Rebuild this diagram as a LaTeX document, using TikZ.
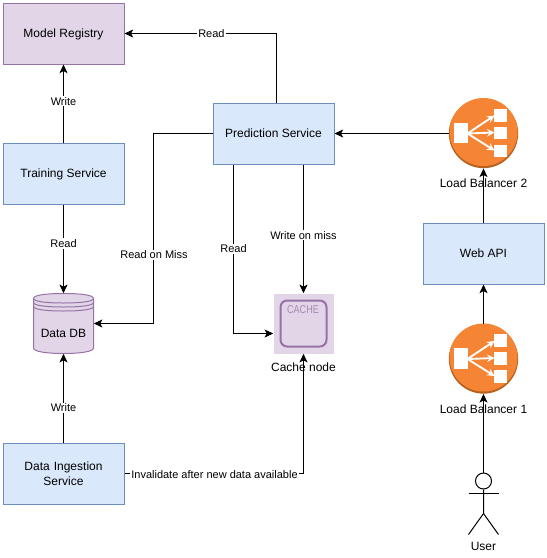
\documentclass[tikz,border=0pt]{standalone}
\usepackage{fontspec}
\setmainfont{Liberation Sans}
\usetikzlibrary{arrows.meta}
\definecolor{bluefill}{HTML}{DAE8FC}
\definecolor{bluedraw}{HTML}{6C8EBF}
\definecolor{purpfill}{HTML}{E1D5E7}
\definecolor{purpdraw}{HTML}{9673A6}
\definecolor{lborange}{HTML}{F58534}
\definecolor{lbdark}{HTML}{B9621F}
\tikzset{
  x=0.75pt,y=-0.75pt,
  svcbase/.style={draw=bluedraw,fill=bluefill,line width=0.75pt,minimum width=90.75pt,minimum height=45.75pt,inner sep=0pt,align=center,font=\fontsize{9}{11}\selectfont},
  svc/.style={svcbase,text height=6.5pt,text depth=0pt},
  reg/.style={svc,draw=purpdraw,fill=purpfill},
  conn/.style={draw=black,line width=0.75pt,-{Stealth[length=6.5pt,width=6pt,inset=1.6pt]}},
  lbl/.style={fill=white,inner sep=0.8pt,font=\fontsize{8.25}{10}\selectfont},
  captxt/.style={inner sep=0pt,font=\fontsize{9}{11}\selectfont},
  lbnode/.style={circle,fill=lbdark,minimum size=52pt,inner sep=0pt},
  lbarrow/.style={white,line width=1.4pt,-{Stealth[length=5.5pt,width=5.5pt]}},
  lbicon/.pic={
    \fill[lborange] (0,-1.5) circle[radius=34];
    \fill[white] (-29.5,-11) rectangle (-16,9.5);
    \fill[white] (10.5,-25) rectangle (23,-12);
    \fill[white] (10.5,-7) rectangle (23,5.5);
    \fill[white] (10.5,11) rectangle (23,23.5);
    \draw[lbarrow] (-16,0) -- (11,-18);
    \draw[lbarrow] (-16,0) -- (11,-1);
    \draw[lbarrow] (-16,0) -- (11,17);
  }
}
\begin{document}
\begin{tikzpicture}
\useasboundingbox (0,0) rectangle (547,558);
\fill[white] (0,0) rectangle (547,558);
% boxes
\node[reg] (registry) at (63.5,33.5) {Model Registry};
\node[svc] (training) at (63.5,173.5) {Training Service};
\node[svc] (prediction) at (273.5,133.5) {Prediction Service};
\node[svcbase,text width=80pt] (ingestion) at (63.5,473.5) {Data Ingestion\\Service};
\node[svc] (webapi) at (483.5,253.5) {Web API};
% data store
\draw[purpdraw,fill=purpfill,line width=0.75pt] (33.5,298.5) .. controls (33.5,295) and (46,293.5) .. (63.5,293.5) .. controls (81,293.5) and (93.5,295) .. (93.5,298.5) -- (93.5,348) .. controls (93.5,351.5) and (81,353.5) .. (63.5,353.5) .. controls (46,353.5) and (33.5,351.5) .. (33.5,348) -- cycle;
\draw[purpdraw,line width=0.75pt] (33.5,298.5) .. controls (33.5,301.5) and (46,303) .. (63.5,303) .. controls (81,303) and (93.5,301.5) .. (93.5,298.5);
\draw[purpdraw,line width=0.75pt] (33.5,302.5) .. controls (33.5,305.5) and (46,307) .. (63.5,307) .. controls (81,307) and (93.5,305.5) .. (93.5,302.5);
\draw[purpdraw,line width=0.75pt] (33.5,306.5) .. controls (33.5,309.5) and (46,311) .. (63.5,311) .. controls (81,311) and (93.5,309.5) .. (93.5,306.5);
\node[minimum width=45pt,minimum height=45pt,inner sep=0pt] (db) at (63.5,323.5) {};
\node[captxt] (dbtxt) at (63.5,333.5) {Data DB};
% cache
\node[fill=purpfill,minimum width=45pt,minimum height=45pt,inner sep=0pt] (cache) at (303.5,323.5) {};
\draw[purpdraw,line width=1.5pt,rounded corners=5pt] (280.5,300.5) rectangle (326.5,346.5);
\node[inner sep=0pt,text=purpdraw!85,font=\fontsize{8.5}{10}\selectfont,xscale=0.8] (cachetxt) at (303,310) {CACHE};
\node[captxt] (cachecap) at (303.5,367) {Cache node};
% load balancers
\node[lbnode] (lb2) at (483.5,133.5) {};
\pic at (lb2.center) {lbicon};
\node[captxt] (lb2cap) at (483.5,183) {Load Balancer 2};
\node[lbnode] (lb1) at (483.5,359) {};
\pic at (lb1.center) {lbicon};
\node[captxt] (lb1cap) at (483.5,409) {Load Balancer 1};
% user
\node[circle,draw=black,fill=white,line width=0.75pt,minimum size=12pt,inner sep=0pt] (user) at (483.5,481) {};
\draw[black,line width=0.75pt] (user.south) -- ++(0,24) coordinate (hip) -- ++(-15,21);
\draw[black,line width=0.75pt] (hip) -- ++(15,21);
\draw[black,line width=0.75pt] ([yshift=-3pt]user.south) ++(-15,0) -- ++(30,0);
\node[captxt] (usercap) at (483.5,546) {User};
% connectors
\draw[conn] (training.north) -- node[lbl,pos=0.53]{Write} (registry.south);
\draw[conn] (training.south) -- node[lbl,pos=0.44]{Read} (db.north);
\draw[conn] (ingestion.north) -- node[lbl,pos=0.39]{Write} (db.south);
\draw[conn] ([xshift=2.6pt]prediction.north) |- node[lbl,pos=0.715]{Read} (registry.east);
\draw[conn] (prediction.west) -| (153.5,323.5) -- (db.east);
\node[lbl] (lmiss) at (154,255) {Read on Miss};
\draw[conn] ([xshift=-30pt]prediction.south) |- ([yshift=-7.5pt]cache.west);
\node[lbl] (lread) at (233.5,249) {Read};
\draw[conn] ([xshift=22.5pt]prediction.south) -- node[lbl,pos=0.55]{Write on miss} (cache.north);
\draw[conn] (ingestion.east) -| (cache.south);
\node[lbl] (linv) at (214.5,475) {Invalidate after new data available};
\draw[conn] (lb2.west) -- (prediction.east);
\draw[conn] (webapi.north) -- (lb2.south);
\draw[conn] (lb1.north) -- (webapi.south);
\draw[conn] (user.north) -- (lb1.south);
\end{tikzpicture}
\end{document}
